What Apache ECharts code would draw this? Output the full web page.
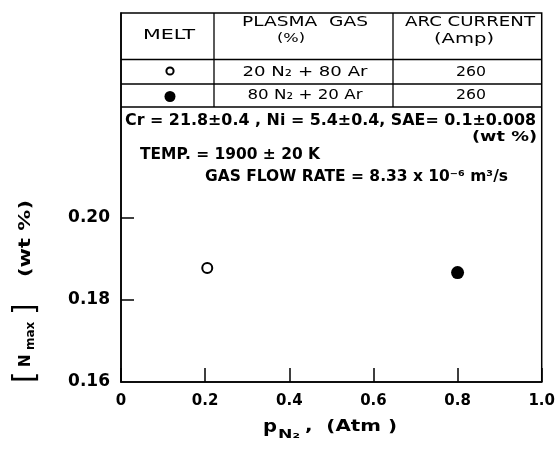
<!DOCTYPE html>
<html>
<head>
<meta charset="utf-8">
<style>html,body{margin:0;padding:0;background:#fff;}#c{width:558px;height:451px;}</style>
<script src="https://cdn.jsdelivr.net/npm/echarts@6/dist/echarts.min.js"></script>
</head>
<body>
<div id="c"></div>
<script>
// ---- data ----
const meltNames = ['20 N₂ + 80 Ar', '80 N₂ + 20 Ar'];
const arcCurrent = ['260', '260'];
const pN2 = [0.205, 0.8];          // p_N2 (Atm)
const nMax = [0.1878, 0.1867];     // [N_max] (wt %)
const xTickValues = [0, 0.2, 0.4, 0.6, 0.8, 1.0];
const yLabelValues = [0.16, 0.18, 0.20];
const yTickValues = [0.18, 0.20];

const FONT = '"DejaVu Sans", sans-serif';
const chart = echarts.init(document.getElementById('c'), null, {renderer: 'canvas'});
const mctx = document.createElement('canvas').getContext('2d');

// text stretched horizontally to a target width (the original lettering is widely spaced)
function fitText(x, y, text, size, weight, width, align) {
  const font = weight + ' ' + size + 'px ' + FONT;
  mctx.font = font;
  const w = mctx.measureText(text).width;
  return {
    type: 'text', x: x, y: y, z: 10, scaleX: width ? width / w : 1,
    style: {text: text, fill: '#000', font: font, textAlign: align || 'center', textVerticalAlign: 'middle', verticalAlign: 'middle'}
  };
}
function hline(x1, x2, y) {
  return {type: 'line', z: 10, shape: {x1: x1, y1: y, x2: x2, y2: y}, style: {stroke: '#000', lineWidth: 1.3}};
}
function vline(x, y1, y2) {
  return {type: 'line', z: 10, shape: {x1: x, y1: y1, x2: x, y2: y2}, style: {stroke: '#000', lineWidth: 1.3}};
}

const L = 121, R = 542, T = 13;
const graphics = [
  // table lines
  hline(L, R, 59.5), hline(L, R, 84), hline(L, R, 107),
  vline(214, T, 107), vline(393, T, 107),
  // headers
  fitText(169, 35, 'MELT', 14, 'normal', 52),
  fitText(305, 22.5, 'PLASMA  GAS', 14, 'normal', 126),
  fitText(291, 39, '(%)', 13, 'normal', 28),
  fitText(470, 22.5, 'ARC CURRENT', 14, 'normal', 130),
  fitText(464, 39, '(Amp)', 14, 'normal', 60),
  // rows
  {type: 'circle', z: 10, shape: {cx: 170, cy: 71, r: 3.6}, style: {fill: '#fff', stroke: '#000', lineWidth: 2}},
  {type: 'circle', z: 10, shape: {cx: 170, cy: 96.5, r: 5.5}, style: {fill: '#000'}},
  fitText(305, 72, meltNames[0], 14, 'normal', 125),
  fitText(305, 95.5, meltNames[1], 14, 'normal', 115),
  fitText(471, 72, arcCurrent[0], 14, 'normal', 30),
  fitText(471, 95.5, arcCurrent[1], 14, 'normal', 30),
  // composition block
  fitText(330.5, 121, 'Cr = 21.8±0.4 , Ni = 5.4±0.4, SAE= 0.1±0.008', 15, 'bold', 411),
  fitText(537, 137, '(wt %)', 14, 'bold', 65, 'right'),
  fitText(140, 155, 'TEMP. = 1900 ± 20 K', 15, 'bold', 180, 'left'),
  fitText(205, 177, 'GAS FLOW RATE = 8.33 x 10⁻⁶ m³/s', 15, 'bold', 303, 'left'),
  // x-axis title
  fitText(263, 428, 'p', 17, 'bold', 14, 'left'),
  fitText(278, 435, 'N₂', 13, 'bold', 22, 'left'),
  fitText(305, 427, ',  (Atm )', 15, 'bold', 92, 'left'),
  // y-axis title (rotated)
  {
    type: 'group', x: 26, y: 383, rotation: Math.PI / 2, z: 10,
    children: [
      {type: 'text', x: 0, y: 0, style: {text: '[', fill: '#000', font: 'normal 30px ' + FONT, textAlign: 'left', textVerticalAlign: 'middle', verticalAlign: 'middle'}},
      {type: 'text', x: 16, y: 0, style: {text: 'N', fill: '#000', font: 'bold 15px ' + FONT, textAlign: 'left', textVerticalAlign: 'middle', verticalAlign: 'middle'}},
      {type: 'text', x: 33, y: 5, style: {text: 'max', fill: '#000', font: 'bold 12px ' + FONT, textAlign: 'left', textVerticalAlign: 'middle', verticalAlign: 'middle'}},
      {type: 'text', x: 68, y: 0, style: {text: ']', fill: '#000', font: 'normal 30px ' + FONT, textAlign: 'left', textVerticalAlign: 'middle', verticalAlign: 'middle'}},
      fitText(106, 0, '(wt %)', 15, 'bold', 77, 'left')
    ]
  }
];

const option = {
  backgroundColor: '#fff',
  animation: false,
  grid: {left: L, right: 558 - R, top: T, bottom: 451 - 382, show: true, borderColor: '#000', borderWidth: 1.5, backgroundColor: 'transparent'},
  xAxis: {
    type: 'value', min: 0, max: 1, interval: 0.2,
    axisLine: {show: true, lineStyle: {color: '#000', width: 1.5}},
    axisTick: {show: true, inside: true, length: 14, lineStyle: {color: '#000', width: 1.5}},
    splitLine: {show: false},
    axisLabel: {
      color: '#000', fontFamily: FONT, fontWeight: 'bold', fontSize: 15, margin: 12,
      customValues: xTickValues,
      formatter: function (v) { return v === 0 ? '0' : v.toFixed(1); }
    }
  },
  yAxis: {
    type: 'value', min: 0.16, max: 0.25, interval: 0.02,
    axisLine: {show: true, lineStyle: {color: '#000', width: 1.5}},
    axisTick: {show: true, inside: true, length: 13, customValues: yTickValues, lineStyle: {color: '#000', width: 1.5}},
    splitLine: {show: false},
    axisLabel: {
      color: '#000', fontFamily: FONT, fontWeight: 'bold', fontSize: 17, margin: 11,
      customValues: yLabelValues,
      formatter: function (v) { return v.toFixed(2); }
    }
  },
  series: [
    {
      name: meltNames[0], type: 'scatter', symbol: 'circle', symbolSize: 10,
      itemStyle: {color: '#fff', borderColor: '#000', borderWidth: 2, opacity: 1},
      data: [[pN2[0], nMax[0]]]
    },
    {
      name: meltNames[1], type: 'scatter', symbol: 'circle', symbolSize: 13,
      itemStyle: {color: '#000', opacity: 1},
      data: [[pN2[1], nMax[1]]]
    }
  ],
  graphic: graphics
};
chart.setOption(option);
</script>
</body>
</html>
